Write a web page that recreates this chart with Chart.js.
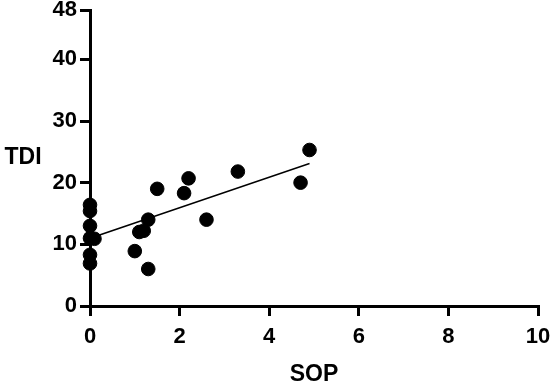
<!DOCTYPE html>
<html>
<head>
<meta charset="utf-8">
<script src="https://cdn.jsdelivr.net/npm/chart.js@4"></script>
<style>
  html, body { margin: 0; padding: 0; background: #fff; }
  #wrap { width: 551px; height: 384px; }
</style>
</head>
<body>
<div id="wrap"><canvas id="scatterChart" width="551" height="384"></canvas></div>
<script>
// 데이터
const sopValues = [0, 0, 0, 0, 0.1, 0, 0, 1.0, 1.1, 1.2, 1.3, 1.3, 1.5, 2.1, 2.2, 2.6, 3.3, 4.7, 4.9];
const tdiValues = [16.4, 15.4, 13.0, 11.0, 10.9, 8.3, 6.9, 8.9, 12.0, 12.2, 14.0, 6.0, 19.0, 18.3, 20.7, 14.0, 21.8, 20.0, 25.3];

// 회귀선 양 끝점
const fitX = [0, 4.9];
const fitY = [11.0, 23.1];

// 축 눈금
const yTicks = [0, 10, 20, 30, 40, 48];
const xTitle = 'SOP';
const yTitle = 'TDI';

const FONT = '"Liberation Sans", Arial, sans-serif';

const points = sopValues.map((x, i) => ({ x: x, y: tdiValues[i] }));
const fitLine = fitX.map((x, i) => ({ x: x, y: fitY[i] }));

// 축 제목 그리기
const axisTitles = {
    id: 'axisTitles',
    afterDraw(chart) {
        const ctx = chart.ctx;
        const area = chart.chartArea;
        ctx.save();
        ctx.fillStyle = '#000';
        ctx.font = 'bold 23px ' + FONT;
        ctx.textAlign = 'center';
        ctx.textBaseline = 'middle';
        ctx.fillText(xTitle, (area.left + area.right) / 2, 375);
        ctx.fillText(yTitle, 23, 158);
        ctx.restore();
    }
};

new Chart(document.getElementById('scatterChart'), {
    type: 'scatter',
    data: {
        datasets: [
            {
                data: points,
                backgroundColor: '#000',
                borderColor: '#000',
                pointRadius: 6.8,
                pointHoverRadius: 6.8,
                clip: false
            },
            {
                data: fitLine,
                showLine: true,
                borderColor: '#000',
                borderWidth: 1.5,
                pointRadius: 0,
                fill: false,
                clip: false
            }
        ]
    },
    options: {
        responsive: false,
        animation: false,
        layout: { padding: { top: 10, right: 13, left: 0, bottom: 0 } },
        plugins: {
            legend: { display: false },
            tooltip: { enabled: false }
        },
        scales: {
            x: {
                type: 'linear',
                min: 0,
                max: 10,
                afterFit(scale) {
                    scale.height = 78;
                    scale.paddingLeft = 0;
                    scale.paddingRight = 0;
                },
                border: { display: true, color: '#000', width: 3 },
                grid: { drawOnChartArea: false, drawTicks: true, tickLength: 10, color: '#000', lineWidth: 3 },
                ticks: { stepSize: 2, color: '#000', padding: 8, font: { family: FONT, size: 22, weight: 'bold' } }
            },
            y: {
                type: 'linear',
                min: 0,
                max: 48,
                afterFit(scale) {
                    scale.width = 90;
                    scale.paddingTop = 0;
                    scale.paddingBottom = 0;
                },
                afterBuildTicks(scale) { scale.ticks = yTicks.map(v => ({ value: v })); },
                border: { display: true, color: '#000', width: 3 },
                grid: { drawOnChartArea: false, drawTicks: true, tickLength: 10, color: '#000', lineWidth: 3 },
                ticks: { color: '#000', padding: 3, font: { family: FONT, size: 22, weight: 'bold' } }
            }
        }
    },
    plugins: [axisTitles]
});
</script>
</body>
</html>
